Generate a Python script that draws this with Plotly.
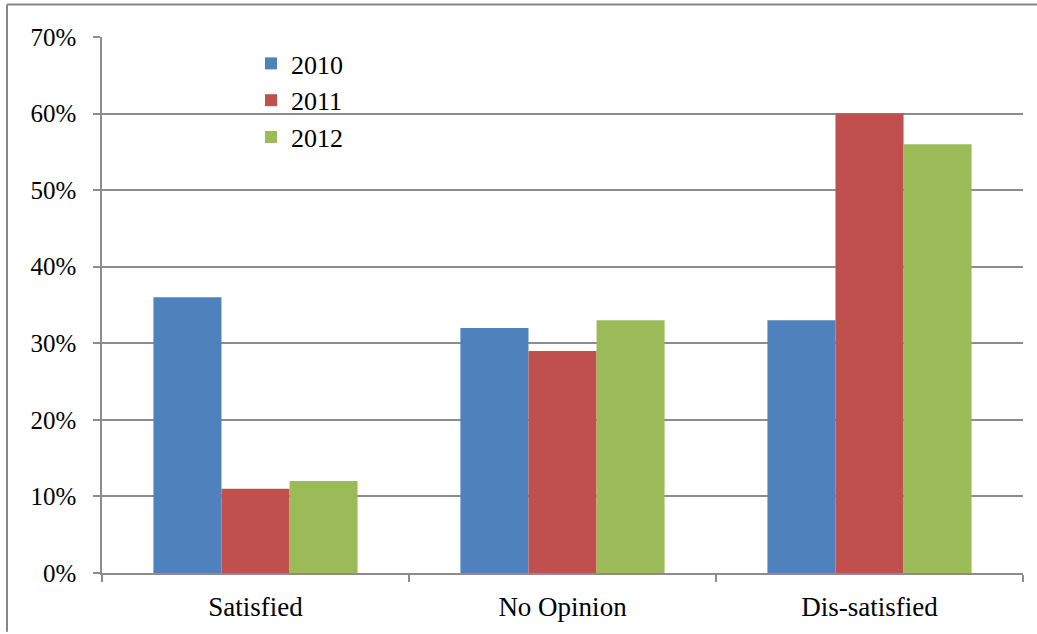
import plotly.graph_objects as go

categories = ["Satisfied", "No Opinion", "Dis-satisfied"]
years = ["2010", "2011", "2012"]
values_2010 = [0.36, 0.32, 0.33]
values_2011 = [0.11, 0.29, 0.60]
values_2012 = [0.12, 0.33, 0.56]
colors = ["#4F81BD", "#C0504D", "#9BBB59"]
y_ticks = [0, 0.1, 0.2, 0.3, 0.4, 0.5, 0.6, 0.7]

W, H = 1037, 634
ML, MR, MT, MB = 102, 14, 37, 59
PW, PH = W - ML - MR, H - MT - MB

FONT = "Liberation Serif, Times New Roman, serif"
GRID = "#8C8C8C"

fig = go.Figure()
for name, vals, col in zip(years, [values_2010, values_2011, values_2012], colors):
    fig.add_trace(go.Bar(
        x=categories, y=vals, name=name, legendgroup=name,
        marker=dict(color=col, line=dict(width=0)),
    ))


def px_x(x):
    return (x - ML) / PW


def px_y(y):
    return (H - MB - y) / PH


# frame around the whole chart (top and left edges)
border = dict(type="line", xref="paper", yref="paper",
              line=dict(color="#878787", width=2), layer="above")
fig.add_shape(**border, x0=px_x(7), x1=px_x(W), y0=px_y(4.5), y1=px_y(4.5))
fig.add_shape(**border, x0=px_x(7), x1=px_x(7), y0=px_y(4.5), y1=px_y(H))

fig.update_layout(
    width=W, height=H,
    margin=dict(l=ML, r=MR, t=MT, b=MB),
    paper_bgcolor="white", plot_bgcolor="white",
    font=dict(family=FONT, size=25, color="black"),
    barmode="group", bargap=0.335, bargroupgap=0,
    showlegend=True,
    legend=dict(
        x=px_x(251), y=px_y(40), xanchor="left", yanchor="top",
        bgcolor="rgba(0,0,0,0)", borderwidth=0,
        font=dict(family=FONT, size=26, color="black"),
        tracegroupgap=0, itemwidth=30,
    ),
    xaxis=dict(
        showgrid=False, showline=True, linecolor=GRID, linewidth=1.5,
        ticks="outside", tickson="boundaries", ticklen=7, tickcolor=GRID,
        tickwidth=1.5, ticklabelstandoff=9,
        tickfont=dict(family=FONT, size=27, color="black"),
    ),
    yaxis=dict(
        range=[0, 0.7], tickvals=y_ticks, tickformat=".0%",
        showgrid=True, gridcolor=GRID, gridwidth=1.5,
        showline=True, linecolor=GRID, linewidth=1.5, zeroline=False,
        ticks="outside", ticklen=7, tickcolor=GRID, tickwidth=1.5,
        ticklabelstandoff=12,
        tickfont=dict(family=FONT, size=25, color="black"),
    ),
)

fig.write_html("out.html")
